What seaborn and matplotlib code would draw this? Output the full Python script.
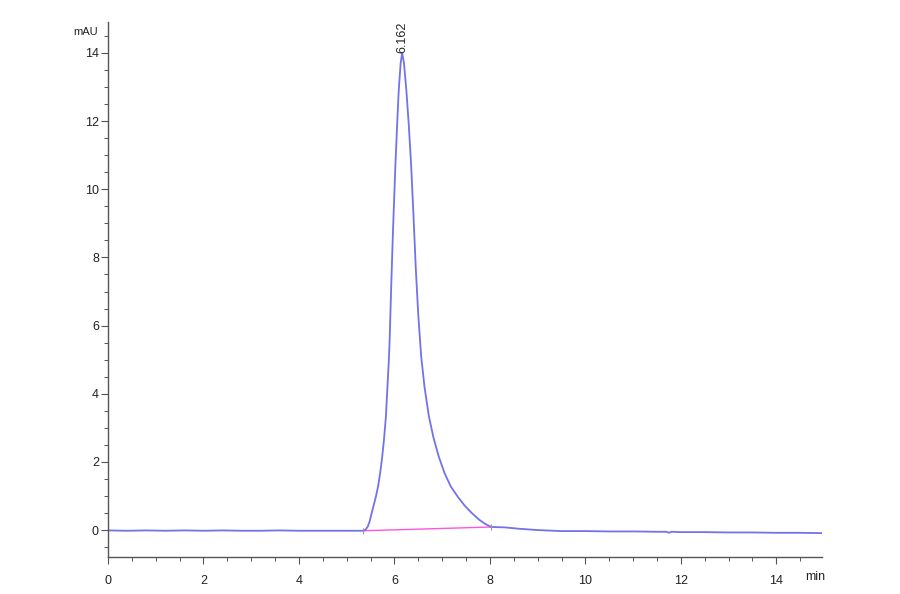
import numpy as np
import pandas as pd
import matplotlib
matplotlib.use("Agg")
import matplotlib.pyplot as plt
import seaborn as sns
from matplotlib.ticker import MultipleLocator

sns.set_style("ticks")
plt.rcParams["font.family"] = ["Liberation Sans", "DejaVu Sans"]

# chromatogram trace (time in min, signal in mAU)
time_min = [0.0, 0.4, 0.8, 1.2, 1.6, 2.0, 2.4, 2.8, 3.2, 3.6, 4.0, 4.4, 4.8, 5.1,
            5.35, 5.40, 5.44, 5.48, 5.52, 5.56, 5.61, 5.66, 5.70, 5.74, 5.78, 5.82,
            5.85, 5.88, 5.90, 5.93, 5.97, 6.02, 6.06, 6.09, 6.13, 6.162, 6.20, 6.25,
            6.30, 6.35, 6.40, 6.45, 6.50, 6.56, 6.63, 6.72, 6.82, 6.93, 7.05, 7.18,
            7.33, 7.47, 7.62, 7.77, 7.90, 8.03, 8.3, 8.6, 9.0, 9.5, 10.0, 10.5,
            11.0, 11.5, 11.7, 11.75, 11.8, 12.0, 12.5, 13.0, 13.5, 14.0, 14.5, 14.95]
signal_mau = [-0.01, -0.02, -0.01, -0.02, -0.01, -0.02, -0.01, -0.02, -0.02, -0.01, -0.02, -0.02, -0.02, -0.02,
              -0.02, 0.02, 0.10, 0.25, 0.48, 0.70, 0.97, 1.30, 1.67, 2.10, 2.64, 3.30,
              4.11, 4.90, 5.58, 7.04, 8.80, 10.71, 12.00, 12.90, 13.70, 14.00, 13.70, 12.90,
              11.90, 10.71, 9.20, 7.60, 6.30, 5.10, 4.20, 3.35, 2.70, 2.15, 1.67, 1.28,
              0.97, 0.72, 0.50, 0.31, 0.18, 0.09, 0.08, 0.04, 0.00, -0.03, -0.03, -0.04,
              -0.04, -0.05, -0.05, -0.08, -0.05, -0.06, -0.06, -0.07, -0.07, -0.08, -0.08, -0.09]

# integration baseline and peak label
base_time = [5.35, 8.03]
base_signal = [-0.02, 0.09]
peak_time = 6.162
peak_height = 14.0
peak_label = "6.162"

x_ticks = [0, 2, 4, 6, 8, 10, 12, 14]
y_ticks = [0, 2, 4, 6, 8, 10, 12, 14]

df = pd.DataFrame({"time": time_min, "signal": signal_mau})

fig = plt.figure(figsize=(9, 5.94), dpi=100)
ax = fig.add_axes([0.12, 0.0623, 0.793, 0.9007])

sns.lineplot(data=df, x="time", y="signal", sort=False, color="#7272ea", linewidth=1.3, ax=ax)
ax.plot(base_time, base_signal, color="#ff55dd", linewidth=1.0, zorder=1)
ax.plot(base_time, base_signal, linestyle="none", marker="|", markersize=5,
        color="#999999", markeredgewidth=0.8)

ax.text(peak_time, peak_height, peak_label, rotation=90, ha="center", va="bottom",
        fontsize=9, color="#222222")

ax.set_xlim(0, 14.95)
ax.set_ylim(-0.79, 14.91)
ax.set_xticks(x_ticks)
ax.set_yticks(y_ticks)
ax.xaxis.set_minor_locator(MultipleLocator(0.5))
ax.yaxis.set_minor_locator(MultipleLocator(0.5))
ax.set_xlabel("")
ax.set_ylabel("")

for side in ["top", "right"]:
    ax.spines[side].set_visible(False)
for side in ["left", "bottom"]:
    ax.spines[side].set_color("#555555")
    ax.spines[side].set_linewidth(1.0)
ax.tick_params(which="major", direction="out", length=5, width=0.8, color="#555555",
               labelsize=9, labelcolor="#222222")
ax.tick_params(which="minor", direction="out", length=3, width=0.7, color="#555555")
ax.tick_params(axis="x", which="major", pad=8)
ax.tick_params(axis="y", which="major", pad=1.5)

fig.text(98 / 900, 1 - 32 / 594, "mAU", ha="right", va="center", fontsize=8, color="#222222")
fig.text(815 / 900, 1 - 577 / 594, "min", ha="center", va="center", fontsize=9, color="#222222")

fig.savefig("out.png", dpi=100, facecolor="white")
